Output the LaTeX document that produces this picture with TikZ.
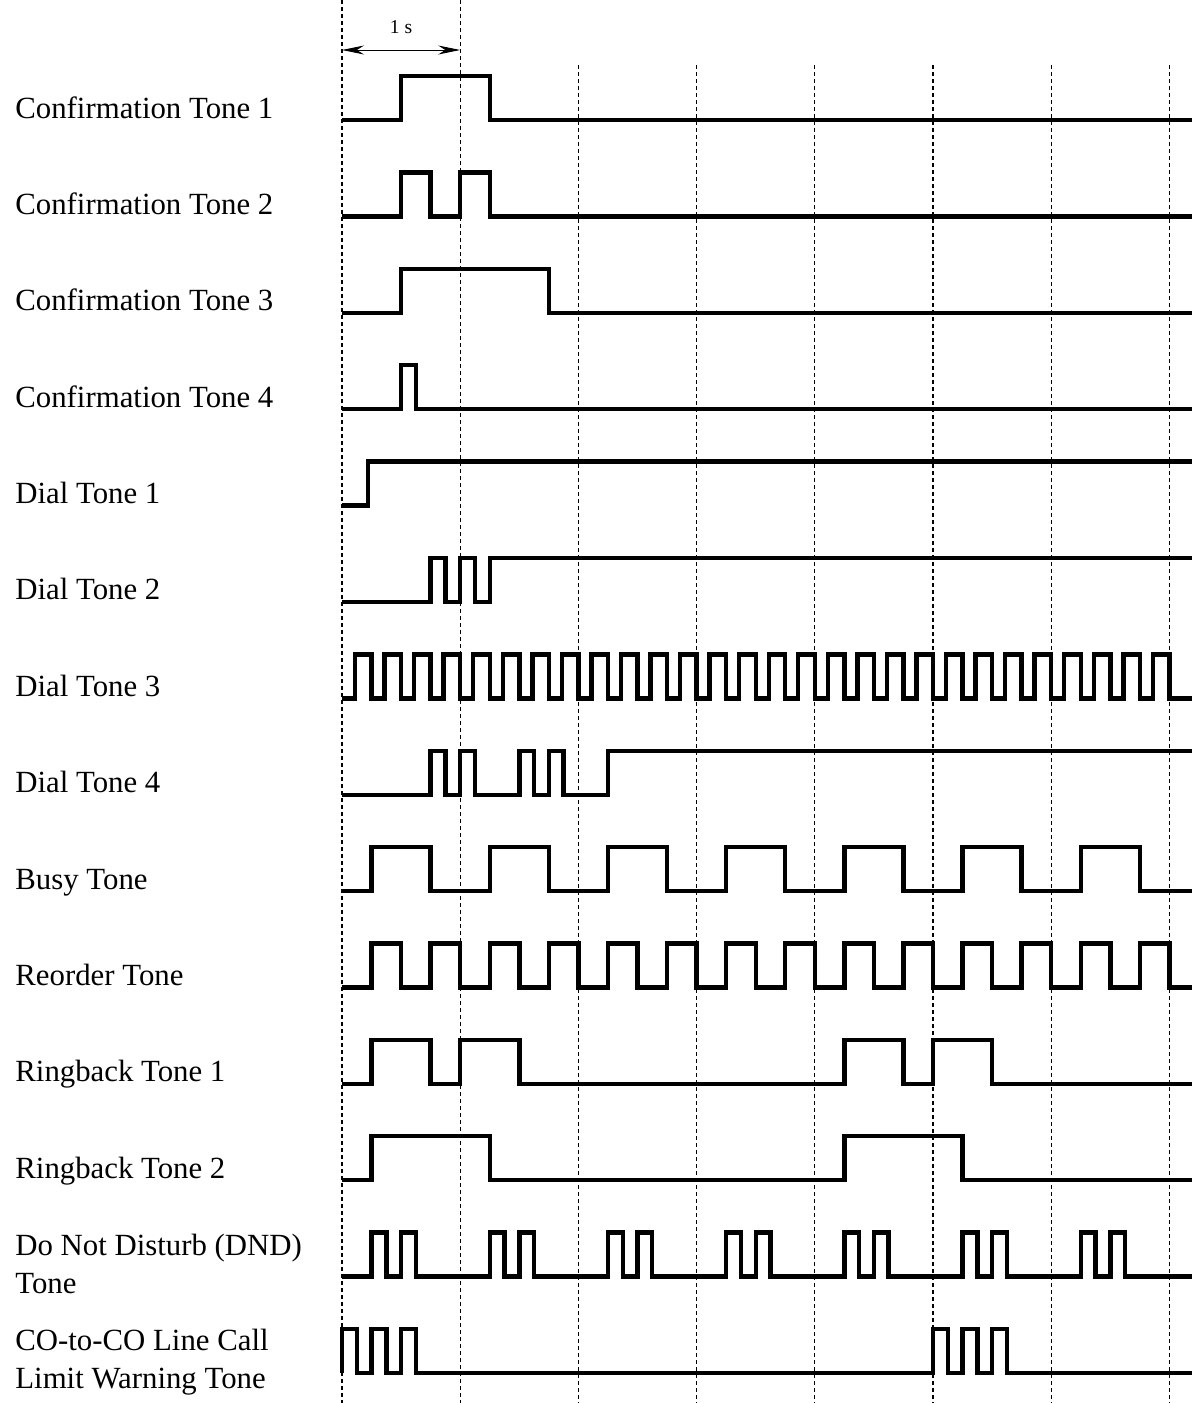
\documentclass[tikz,border=0pt]{standalone}
\usepackage{fontspec}
\setmainfont{Liberation Serif}
\usetikzlibrary{arrows.meta}

\begin{document}
\begin{tikzpicture}[x=0.5pt,y=-0.5pt,
  wave/.style={line width=2.2pt, line join=miter},
  gridline/.style={line width=0.6pt, dash pattern=on 2pt off 1.5pt},
  tonename/.style={anchor=base west, inner sep=0pt, align=left,
    font=\fontsize{15.4}{18.75}\selectfont}]
  \useasboundingbox (0,0) rectangle (1191,1403);

  % names of the tones
  \foreach \txt [count=\i] in {Confirmation Tone 1, Confirmation Tone 2,
      Confirmation Tone 3, Confirmation Tone 4, Dial Tone 1, Dial Tone 2,
      Dial Tone 3, Dial Tone 4, Busy Tone, Reorder Tone, Ringback Tone 1,
      Ringback Tone 2}
    \node[tonename] (tone\i) at (15,{118+96.38*(\i-1)}) {\txt};
  % base of a two-line node is its last line
  \node[tonename] (tone13) at (15,1293) {Do Not Disturb (DND)\\Tone};
  \node[tonename] (tone14) at (15,1388) {CO-to-CO Line Call\\Limit Warning Tone};

  % time axis, 1 s per step
  \begin{scope}[shift={(342,0)}, x=59.1pt]
    \def\tend{7.19}
    \foreach \t in {0,1} \draw[gridline] (\t,0) -- (\t,1403);
    \foreach \t in {2,...,7} \draw[gridline] (\t,65) -- (\t,1403);
    \coordinate (s0) at (0,50);
    \coordinate (s1) at (1,50);
    \draw[{Stealth[length=11pt,width=4.5pt]}-{Stealth[length=11pt,width=4.5pt]}, line width=0.5pt] (s0) -- (s1);
    \node[anchor=base, inner sep=0pt, font=\fontsize{9.8}{11}\selectfont] (onesec) at (0.5,33) {1 s};

    % confirmation tones
    \draw[wave] (0,120) -| (0.5,76) -| (1.25,120) -- (\tend,120);
    \draw[wave] (0,216.4) \foreach \s in {0.5,1.0} {-| (\s,172.4) -| (\s+0.25,216.4)} -- (\tend,216.4);
    \draw[wave] (0,312.8) -| (0.5,268.8) -| (1.75,312.8) -- (\tend,312.8);
    \draw[wave] (0,409.1) -| (0.5,365.1) -| (0.625,409.1) -- (\tend,409.1);
    % dial tones
    \draw[wave] (0,505.5) -| (0.22,461.5) -- (\tend,461.5);
    \draw[wave] (0,601.9) \foreach \s in {0.75,1.0} {-| (\s,557.9) -| (\s+0.125,601.9)} -| (1.25,557.9) -- (\tend,557.9);
    \draw[wave] (0,698.3) \foreach \k in {0,...,27} {-| (\k/4+0.11,654.3) -| (\k/4+0.25,698.3)} -- (\tend,698.3);
    \draw[wave] (0,794.7) \foreach \s in {0.75,1.0,1.5,1.75} {-| (\s,750.7) -| (\s+0.125,794.7)} -| (2.25,750.7) -- (\tend,750.7);
    % busy and reorder
    \draw[wave] (0,891) \foreach \k in {0,...,6} {-| (\k+0.25,847) -| (\k+0.75,891)} -- (\tend,891);
    \draw[wave] (0,987.4) \foreach \k in {0,...,13} {-| (\k/2+0.25,943.4) -| (\k/2+0.5,987.4)} -- (\tend,987.4);
    % ringback
    \draw[wave] (0,1083.8) \foreach \s in {0.25,1.0,4.25,5.0} {-| (\s,1039.8) -| (\s+0.5,1083.8)} -- (\tend,1083.8);
    \draw[wave] (0,1180.2) \foreach \s in {0.25,4.25} {-| (\s,1136.2) -| (\s+1,1180.2)} -- (\tend,1180.2);
    % DND
    \draw[wave] (0,1276.6) \foreach \k in {0,...,6} {-| (\k+0.25,1232.6) -| (\k+0.375,1276.6) -| (\k+0.5,1232.6) -| (\k+0.625,1276.6)} -- (\tend,1276.6);
    % CO-to-CO
    \draw[wave] (0,1373) \foreach \s in {0,0.25,0.5,5,5.25,5.5} {-| (\s,1329) -| (\s+0.125,1373)} -- (\tend,1373);
  \end{scope}
\end{tikzpicture}
\end{document}
